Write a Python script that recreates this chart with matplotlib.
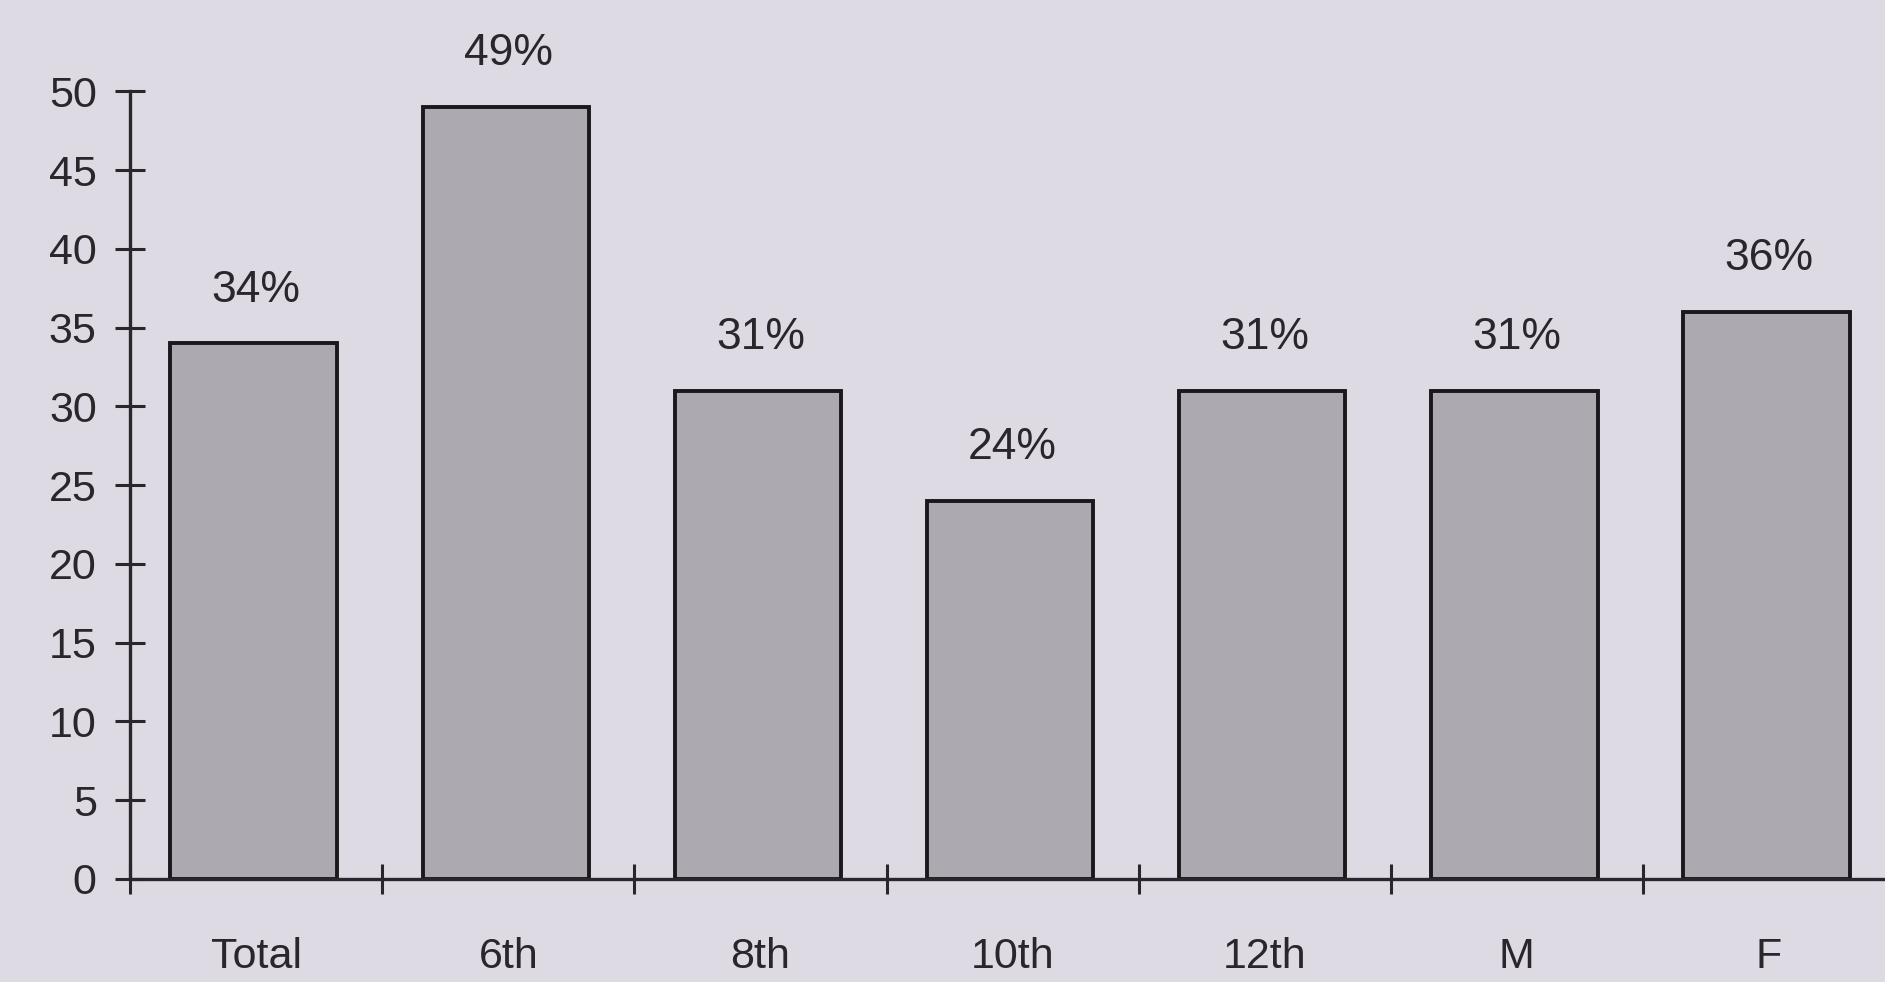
import numpy as np
import matplotlib.pyplot as plt

categories = ['Total', '6th', '8th', '10th', '12th', 'M', 'F']
values = [34, 49, 31, 24, 31, 31, 36]
yticks = [0, 5, 10, 15, 20, 25, 30, 35, 40, 45, 50]

bg = '#dddae3'
ink = '#29272b'

plt.rcParams['font.family'] = ['Liberation Sans', 'DejaVu Sans']

fig = plt.figure(figsize=(18.85, 9.82), dpi=100, facecolor=bg)
ax = fig.add_axes([0.069, 0.105, 0.931, 0.802])
ax.set_facecolor(bg)

x = np.arange(len(categories))
ax.bar(x - 0.01, values, width=0.66, color='#acaab0', edgecolor='#1a181c',
       linewidth=2.8, zorder=2)

for xi, v in zip(x, values):
    ax.annotate(f'{v}%', (xi, v), xytext=(0, 30), textcoords='offset points',
                ha='center', va='baseline', fontsize=32, color=ink)

ax.set_xlim(-0.5, 6.46)
ax.set_ylim(0, 50)

for side in ['top', 'right']:
    ax.spines[side].set_visible(False)
for side in ['left', 'bottom']:
    ax.spines[side].set_linewidth(2.4)
    ax.spines[side].set_color(ink)
    ax.spines[side].set_zorder(3)

ax.set_yticks(yticks)
ax.tick_params(axis='y', direction='inout', length=22, width=2.2, color=ink,
               labelsize=31, labelcolor=ink, pad=13)

ax.set_xticks(x)
ax.set_xticklabels(categories)
ax.set_xticks(np.arange(-0.5, 6.0, 1.0), minor=True)
ax.tick_params(axis='x', which='major', length=0, labelsize=31,
               labelcolor=ink, pad=42)
ax.tick_params(axis='x', which='minor', direction='inout', length=22,
               width=2.2, color=ink)

fig.savefig('out.png', dpi=100, facecolor=bg)
